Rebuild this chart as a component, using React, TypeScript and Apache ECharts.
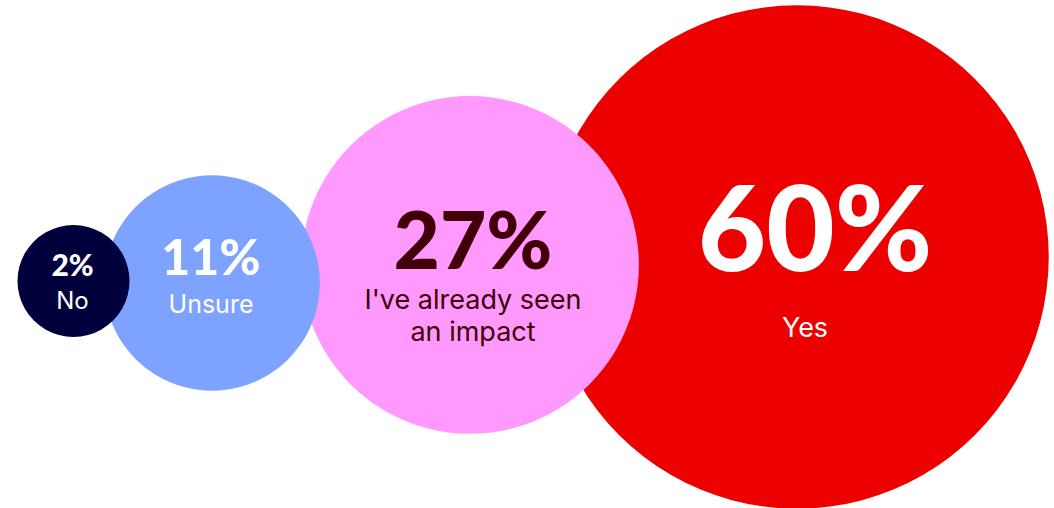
import React, { useEffect, useRef } from "react";
import * as echarts from "echarts";

// Data
const categories = ["Yes", "I've already seen\nan impact", "Unsure", "No"];
const values = [60, 27, 11, 2];

// Layout (pixel positions of bubble centres, label offsets) and styles
const centerX = [797, 470, 212, 73.5];
const centerY = [257, 265, 283, 281];
const labelOffset = [
  [18, 19],
  [3, 5],
  [-1, -3],
  [-1, 1],
];
const smallPadRight = [20, 0, 0, 0];
const fills = ["#ec0000", "#ff99fe", "#7da2ff", "#00003c"];
const textColors = ["#ffffff", "#410008", "#ffffff", "#ffffff"];
const bigSizes = [118, 80, 50, 30];
const smallSizes = [27, 27, 25, 24];
const bigLine = [102, 90, 48, 36];
const smallLine = [102, 32, 48, 36];

const SCALE = 32.5; // px radius per sqrt(percent)
const MIN_R = 56;

export default function App() {
  const ref = useRef<HTMLDivElement>(null);
  useEffect(() => {
    document.body.style.margin = "0";
    const chart = echarts.init(ref.current!, null, { renderer: "svg" });
    const data = values.map((v, i) => ({
      name: categories[i],
      value: [centerX[i], centerY[i], v],
      symbolSize: 2 * Math.max(MIN_R, SCALE * Math.sqrt(v)),
      itemStyle: { color: fills[i], opacity: 1 },
      label: {
        show: true,
        position: "inside",
        offset: labelOffset[i],
        align: "center",
        formatter: () =>
          `{b|${v}%}\n` +
          categories[i]
            .split("\n")
            .map((s) => `{s|${s}}`)
            .join("\n"),
        rich: {
          b: {
            fontFamily: "Lato",
            fontWeight: 900,
            fontSize: bigSizes[i],
            lineHeight: bigLine[i],
            color: textColors[i],
            align: "center",
          },
          s: {
            fontFamily: "Inter",
            fontWeight: 400,
            fontSize: smallSizes[i],
            lineHeight: smallLine[i],
            color: textColors[i],
            align: "center",
            padding: [0, smallPadRight[i], 0, 0],
          },
        },
      },
    }));
    chart.setOption({
      animation: false,
      grid: { left: 0, right: 0, top: 0, bottom: 0 },
      xAxis: { type: "value", min: 0, max: 1054, show: false },
      yAxis: { type: "value", min: 0, max: 508, inverse: true, show: false },
      series: [
        {
          type: "scatter",
          symbol: "circle",
          data,
          itemStyle: { opacity: 1 },
          emphasis: { disabled: true },
        },
      ],
    });
    return () => chart.dispose();
  }, []);
  return <div ref={ref} style={{ width: 1054, height: 508 }} />;
}
